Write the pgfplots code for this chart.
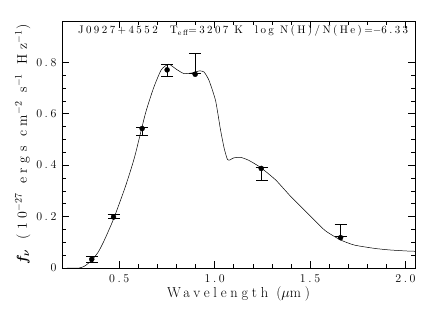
\documentclass[border=0pt]{standalone}
\usepackage{fontspec}
\setmainfont{Latin Modern Roman}[LetterSpace=22]
\usepackage{pgfplots}
\pgfplotsset{compat=1.18}
\begin{document}
\begin{tikzpicture}[x=1bp,y=1bp]
\path[use as bounding box] (-62bp,-44bp) rectangle (374bp,268bp);
\begin{axis}[
  at={(0,0)}, anchor=south west,
  scale only axis, width=353bp, height=247bp,
  xmin=0.2, xmax=2.05, ymin=0, ymax=0.96,
  xtick={0.5,1,1.5,2}, xticklabels={0.5,1.0,1.5,2.0},
  minor x tick num=4,
  ytick={0,0.2,0.4,0.6,0.8}, yticklabels={0,0.2,0.4,0.6,0.8},
  minor y tick num=3,
  tick align=inside,
  major tick length=7bp, minor tick length=4bp,
  tick style={black, line width=0.5pt},
  axis line style={line width=0.6pt},
  /pgf/number format/assume math mode=true,
  ticklabel style={font=\fontsize{12}{14}\selectfont},
  xticklabel style={yshift=-3bp},
  yticklabel style={xshift=-2bp},
  xlabel={Wavelength ($\mu$m)},
  xlabel style={font=\fontsize{14.5}{16}\selectfont\addfontfeatures{LetterSpace=26}, yshift=3bp},
  ylabel={{\boldmath$f_\nu$} (10$^{-27}$ ergs cm$^{-2}$ s$^{-1}$ Hz$^{-1}$)},
  ylabel style={font=\fontsize{14}{16}\selectfont\addfontfeatures{LetterSpace=34}, yshift=-1bp},
]
% model curve
\addplot[black, line width=0.5pt, smooth, tension=0.35] coordinates {
(0.225,0.0) (0.29,0.0) (0.32,0.008) (0.356,0.03) (0.39,0.062) (0.42,0.105)
(0.47,0.19) (0.532,0.316) (0.58,0.43) (0.637,0.6) (0.68,0.7) (0.72,0.77)
(0.759,0.792) (0.80,0.772) (0.838,0.756) (0.88,0.758) (0.92,0.766) (0.944,0.762)
(0.97,0.73) (1.005,0.65) (1.03,0.54) (1.05,0.465) (1.067,0.422) (1.08,0.42)
(1.10,0.428) (1.137,0.43) (1.18,0.418) (1.242,0.39) (1.32,0.342) (1.40,0.277)
(1.505,0.199) (1.58,0.145) (1.66,0.109) (1.733,0.089) (1.84,0.076) (1.92,0.070)
(2.01,0.066) (2.05,0.065)
};
% observed error bars
\addplot[black, line width=0.5pt, only marks, mark=text, text mark={},
  error bars/.cd, y dir=both, y explicit,
  error mark=-,
  error bar style={line width=0.5pt},
  error mark options={rotate=90, mark size=6bp, line width=0.5pt}]
coordinates {
(0.356,0.034) +- (0,0.010)
(0.470,0.200) +- (0,0.007)
(0.620,0.532) +- (0,0.016)
(0.751,0.769) +- (0,0.023)
(0.896,0.796) +- (0,0.040)
(1.246,0.367) +- (0,0.026)
(1.660,0.147) +- (0,0.022)
};
% synthetic photometry dots
\addplot[black, only marks, mark=*, mark size=2.5bp] coordinates {
(0.356,0.034) (0.470,0.198) (0.620,0.542) (0.751,0.770) (0.898,0.753) (1.244,0.387) (1.660,0.118)
};
\node[anchor=north, font=\fontsize{11}{13}\selectfont]
  at (rel axis cs:0.513,0.995)
  {J0927+4552\ \ T\textsubscript{eff}=3207 K\ \ log N(H)/N(He)=$-$6.33};
\end{axis}
\end{tikzpicture}
\end{document}
